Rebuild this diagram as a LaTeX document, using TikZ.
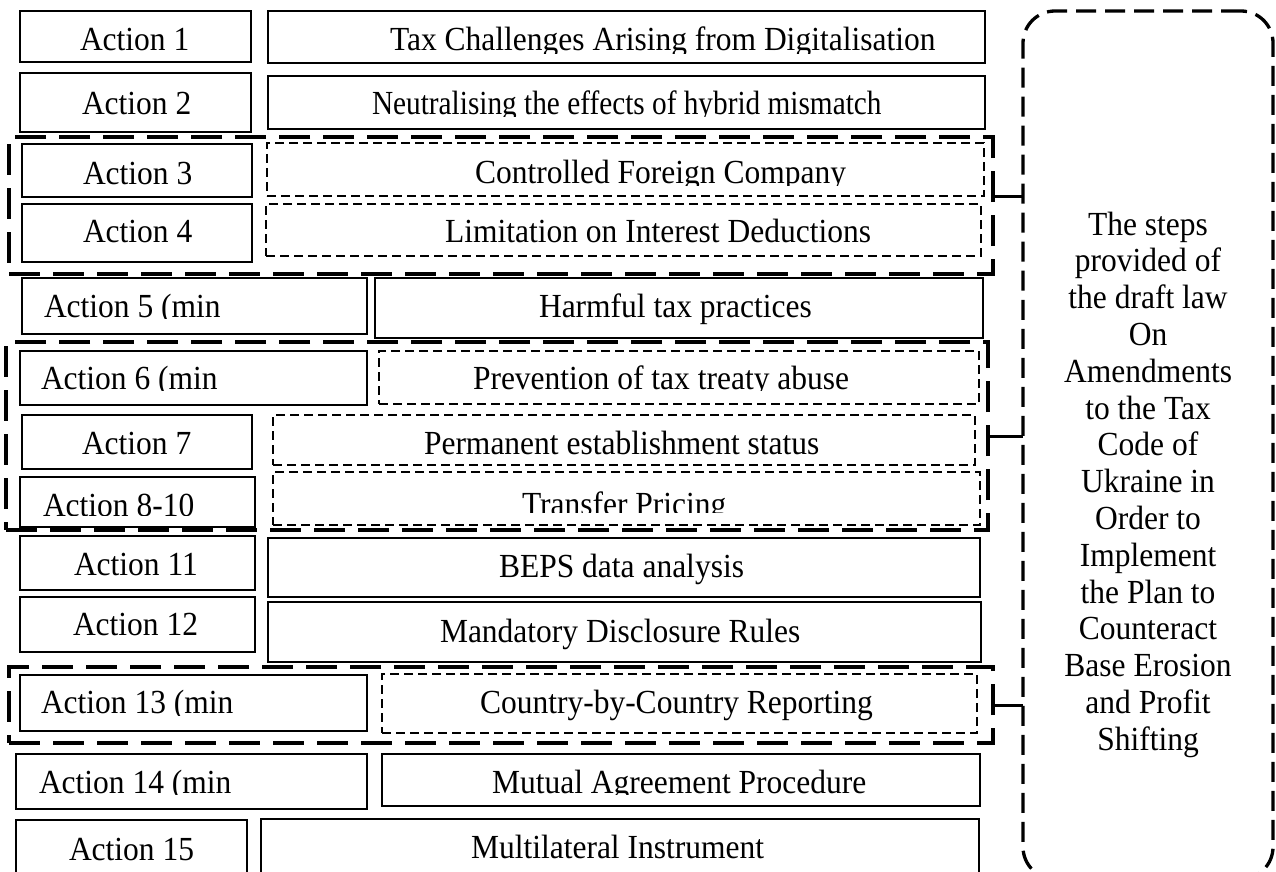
\documentclass[tikz,border=0pt]{standalone}
\usepackage{fontspec}
\setmainfont{Liberation Serif}
\usepackage{graphicx}
\tikzset{
  every node/.style={inner sep=0pt, outer sep=0pt},
  boxsolid/.style={draw, line width=2.2pt, rectangle},
  boxdash/.style={draw, line width=2pt, rectangle, dash pattern=on 9pt off 5pt},
  grp/.style={draw, line width=3.5pt, rectangle, dash pattern=on 31pt off 13pt},
  bigr/.style={draw, line width=3.3pt, rectangle, rounded corners=32pt, dash pattern=on 20pt off 9pt},
  txt/.style={font=\fontsize{31.5}{36.8}\selectfont, anchor=base west},
  sidetxt/.style={font=\fontsize{31.5}{36.8}\selectfont, anchor=base},
  link/.style={line width=3pt},
}
\newcommand\tall[1]{\scalebox{1}[1.07]{#1}}
\newcommand\bx[6]{\node[#2, minimum width={#5-#3}, minimum height={#6-#4}] (#1) at ({(#3+#5)/2},{(#4+#6)/2}) {};}
\newcommand\tx[5]{\begin{scope}\clip (0,0) rectangle (1276,#4);\node[txt] (#1) at (#2,#3) {\tall{#5}};\end{scope}}
\begin{document}
\begin{tikzpicture}[x=1pt,y=-1pt]
\useasboundingbox (0,0) rectangle (1276,872);
\clip (0,0) rectangle (1276,872);
\fill[white] (0,0) rectangle (1276,872);
% groups
\bx{g1}{grp}{9}{137}{993}{274}
\bx{g2}{grp}{6}{342}{988}{530}
\bx{g3}{grp}{9}{667}{993}{743}
% big rounded box
\bx{big}{bigr}{1023}{11}{1273}{879}
% row 1
\bx{l1}{boxsolid}{20}{11}{251}{62}
\bx{r1}{boxsolid}{268}{11}{985}{63}
\tx{tl1}{80}{51}{60}{Action 1}
\tx{tr1}{390}{51}{53.5}{Tax Challenges Arising from Digitalisation}
% row 2
\bx{l2}{boxsolid}{20}{73}{251}{132}
\bx{r2}{boxsolid}{268}{76}{985}{129}
\tx{tl2}{82}{114}{125}{Action 2}
\tx{tr2}{372}{115}{117}{\scalebox{0.93}[1]{Neutralising the effects of hybrid mismatch}}
% row 3
\bx{l3}{boxsolid}{22}{144}{252}{197}
\bx{r3}{boxdash}{267}{143}{984}{196}
\tx{tl3}{83}{184}{192}{Action 3}
\tx{tr3}{475}{183}{185.5}{Controlled Foreign Company}
% row 4
\bx{l4}{boxsolid}{22}{204}{252}{262}
\bx{r4}{boxdash}{266}{204}{981}{256}
\tx{tl4}{83}{242}{255}{Action 4}
\tx{tr4}{445}{242}{252}{Limitation on Interest Deductions}
% row 5
\bx{l5}{boxsolid}{22}{278}{367}{334}
\bx{r5}{boxsolid}{375}{278}{983}{338}
\tx{tl5}{44}{317}{318.5}{Action 5 (min}
\tx{tr5}{539}{317}{332}{Harmful tax practices}
% row 6
\bx{l6}{boxsolid}{20}{351}{367}{405}
\bx{r6}{boxdash}{379}{351}{979}{404}
\tx{tl6}{41}{389}{390.5}{Action 6 (min}
\tx{tr6}{473}{389}{390.5}{Prevention of tax treaty abuse}
% row 7
\bx{l7}{boxsolid}{22}{415}{252}{469}
\bx{r7}{boxdash}{273}{415}{975}{465}
\tx{tl7}{82}{454}{462}{Action 7}
\tx{tr7}{424}{454}{462}{Permanent establishment status}
% row 8
\bx{l8}{boxsolid}{20}{477}{255}{527}
\bx{r8}{boxdash}{273}{472}{980}{525}
\tx{tl8}{43}{516.5}{515}{Action 8-10}
\tx{tr8}{522}{515}{512.5}{Transfer Pricing}
% row 9
\bx{l9}{boxsolid}{20}{536}{255}{590}
\bx{r9}{boxsolid}{268}{538}{980}{597}
\tx{tl9}{74}{575}{586}{Action 11}
\tx{tr9}{499}{577}{592}{BEPS data analysis}
% row 10
\bx{l10}{boxsolid}{20}{597}{255}{652}
\bx{r10}{boxsolid}{268}{602}{981}{662}
\tx{tl10}{73}{635}{648}{Action 12}
\tx{tr10}{440}{642}{657}{Mandatory Disclosure Rules}
% row 11
\bx{l11}{boxsolid}{20}{675}{367}{731}
\bx{r11}{boxdash}{382}{674}{977}{733}
\tx{tl11}{41}{713}{715}{Action 13 (min}
\tx{tr11}{480}{713}{728}{Country-by-Country Reporting}
% row 12
\bx{l12}{boxsolid}{16}{754}{367}{809}
\bx{r12}{boxsolid}{382}{754}{980}{806}
\tx{tl12}{39}{793}{794.5}{Action 14 (min}
\tx{tr12}{492}{793}{794.5}{Mutual Agreement Procedure}
% row 13
\bx{l13}{boxsolid}{16}{820}{247}{880}
\bx{r13}{boxsolid}{261}{819}{979}{880}
\tx{tl13}{69}{860}{872}{Action 15}
\tx{tr13}{471}{858}{872}{Multilateral Instrument}
% side text
\foreach \l [count=\i] in {The steps, provided of, the draft law, On, Amendments, to the Tax, Code of, Ukraine in, Order to, Implement, the Plan to, Counteract, Base Erosion, and Profit, Shifting}
  \node[sidetxt] (s\i) at (1148,{235+(\i-1)*36.8}) {\tall{\l}};
% connectors
\draw[link] (g1.east |- r3.south) -- (big.west |- r3.south);
\draw[link] (g2.east) -- (big.west |- g2.east);
\draw[link] (g3.east) -- (big.west |- g3.east);
\end{tikzpicture}
\end{document}
